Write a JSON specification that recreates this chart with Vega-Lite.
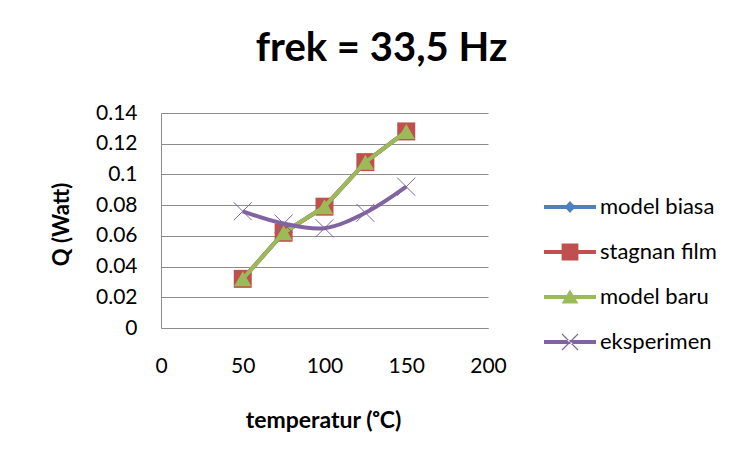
{
  "$schema": "https://vega.github.io/schema/vega-lite/v6.json",
  "width": 327,
  "height": 215,
  "autosize": {"type": "none"},
  "padding": {"left": 161, "top": 113, "right": 251, "bottom": 127},
  "background": "white",
  "config": {
    "font": "Lato",
    "view": {"stroke": null},
    "legend": {"labelFont": "Lato"}
  },
  "title": {
    "text": "frek = 33,5 Hz",
    "font": "Lato",
    "fontSize": 40,
    "fontWeight": "bold",
    "color": "#000000",
    "anchor": "middle",
    "dx": 57,
    "offset": 33
  },
  "data": {
    "values": [
      {"series": "model biasa", "t": 50, "q": 0.032},
      {"series": "model biasa", "t": 75, "q": 0.062},
      {"series": "model biasa", "t": 100, "q": 0.079},
      {"series": "model biasa", "t": 125, "q": 0.108},
      {"series": "model biasa", "t": 150, "q": 0.128},
      {"series": "stagnan film", "t": 50, "q": 0.032},
      {"series": "stagnan film", "t": 75, "q": 0.062},
      {"series": "stagnan film", "t": 100, "q": 0.079},
      {"series": "stagnan film", "t": 125, "q": 0.108},
      {"series": "stagnan film", "t": 150, "q": 0.128},
      {"series": "model baru", "t": 50, "q": 0.032},
      {"series": "model baru", "t": 75, "q": 0.062},
      {"series": "model baru", "t": 100, "q": 0.079},
      {"series": "model baru", "t": 125, "q": 0.108},
      {"series": "model baru", "t": 150, "q": 0.128},
      {"series": "eksperimen", "t": 50, "q": 0.076},
      {"series": "eksperimen", "t": 75, "q": 0.068},
      {"series": "eksperimen", "t": 100, "q": 0.065},
      {"series": "eksperimen", "t": 125, "q": 0.075},
      {"series": "eksperimen", "t": 150, "q": 0.092}
    ]
  },
  "encoding": {
    "x": {
      "field": "t",
      "type": "quantitative",
      "scale": {"domain": [0, 200], "nice": false, "zero": false},
      "axis": {
        "values": [0, 50, 100, 150, 200],
        "title": "temperatur (ᵒC)",
        "titleFont": "Lato",
        "titleFontSize": 23,
        "titleFontWeight": "bold",
        "titleColor": "#000000",
        "titleX": 162,
        "titleY": 92,
        "titleBaseline": "middle",
        "titleAlign": "center",
        "labelFont": "Lato",
        "labelFontSize": 21,
        "labelColor": "#000000",
        "labelPadding": 27,
        "labelFlush": false,
        "labelOverlap": false,
        "ticks": false,
        "grid": false,
        "domain": true,
        "domainColor": "#8c8c8c",
        "domainWidth": 1
      }
    },
    "y": {
      "field": "q",
      "type": "quantitative",
      "scale": {"domain": [0, 0.14], "nice": false},
      "axis": {
        "values": [0, 0.02, 0.04, 0.06, 0.08, 0.1, 0.12, 0.14],
        "labelExpr": "format(datum.value, '~g')",
        "title": "Q (Watt)",
        "titleFont": "Lato",
        "titleFontSize": 22,
        "titleFontWeight": "bold",
        "titleColor": "#000000",
        "titleX": -100,
        "titleY": 111,
        "titleAngle": -90,
        "titleBaseline": "middle",
        "titleAlign": "center",
        "labelFont": "Lato",
        "labelFontSize": 21,
        "labelColor": "#000000",
        "labelPadding": 24,
        "labelOverlap": false,
        "ticks": false,
        "grid": true,
        "gridColor": "#8c8c8c",
        "gridWidth": 1,
        "domain": true,
        "domainColor": "#8c8c8c",
        "domainWidth": 1
      }
    }
  },
  "layer": [
    {
      "transform": [{"filter": "datum.series === 'model biasa'"}],
      "mark": {"type": "line", "strokeWidth": 4},
      "encoding": {
        "color": {
          "field": "series",
          "type": "nominal",
          "scale": {
            "domain": ["model biasa", "stagnan film", "model baru", "eksperimen"],
            "range": ["#4F81BD", "#C0504D", "#9BBB59", "#8064A2"]
          },
          "legend": {
            "orient": "none",
            "legendX": 389,
            "legendY": 74,
            "title": null,
            "symbolSize": 1600,
            "labelFontSize": 22,
            "labelFont": "Lato",
            "labelColor": "#000000",
            "labelOffset": 10,
            "rowPadding": 14,
            "labelLimit": 200,
            "encode": {
              "symbols": {
                "update": {
                  "shape": {"signal": "datum.value === 'model biasa' ? 'M-1.3,-0.1H1.3V0.1H-1.3Z M0,-0.3L0.28,0L0,0.3L-0.28,0Z' : datum.value === 'stagnan film' ? 'M-1.3,-0.1H1.3V0.1H-1.3Z M-0.42,-0.42H0.42V0.42H-0.42Z' : datum.value === 'model baru' ? 'M-1.3,-0.1H1.3V0.1H-1.3Z M0,-0.38L0.42,0.32L-0.42,0.32Z' : 'M-1.3,-0.1H1.3V0.1H-1.3Z M-0.42,-0.38L0.38,0.42L0.42,0.38L-0.38,-0.42Z M0.38,-0.42L0.42,-0.38L-0.38,0.42L-0.42,0.38Z'"},
                  "fill": {"scale": "color", "field": "value"},
                  "fillOpacity": {"value": 1},
                  "stroke": {"value": "transparent"},
                  "strokeWidth": {"value": 0}
                }
              }
            }
          }
        }
      }
    },
    {
      "transform": [{"filter": "datum.series === 'model biasa'"}],
      "mark": {"type": "point", "shape": "diamond", "size": 200, "filled": true, "opacity": 1, "color": "#4F81BD"}
    },
    {
      "transform": [{"filter": "datum.series === 'stagnan film'"}],
      "mark": {"type": "line", "strokeWidth": 4},
      "encoding": {"color": {"field": "series", "type": "nominal"}}
    },
    {
      "transform": [{"filter": "datum.series === 'stagnan film'"}],
      "mark": {"type": "point", "shape": "square", "size": 324, "filled": true, "opacity": 1, "color": "#C0504D"}
    },
    {
      "transform": [{"filter": "datum.series === 'model baru'"}],
      "mark": {"type": "line", "strokeWidth": 4},
      "encoding": {"color": {"field": "series", "type": "nominal"}}
    },
    {
      "transform": [{"filter": "datum.series === 'model baru'"}],
      "mark": {"type": "point", "shape": "triangle-up", "size": 300, "filled": true, "opacity": 1, "color": "#9BBB59"}
    },
    {
      "transform": [{"filter": "datum.series === 'eksperimen'"}],
      "mark": {"type": "line", "strokeWidth": 4, "interpolate": "catmull-rom"},
      "encoding": {"color": {"field": "series", "type": "nominal"}}
    },
    {
      "transform": [{"filter": "datum.series === 'eksperimen'"}],
      "mark": {"type": "point", "shape": "M-1,-1L1,1M1,-1L-1,1", "size": 324, "filled": false, "opacity": 1, "strokeWidth": 1, "color": "#8064A2"}
    }
  ]
}
